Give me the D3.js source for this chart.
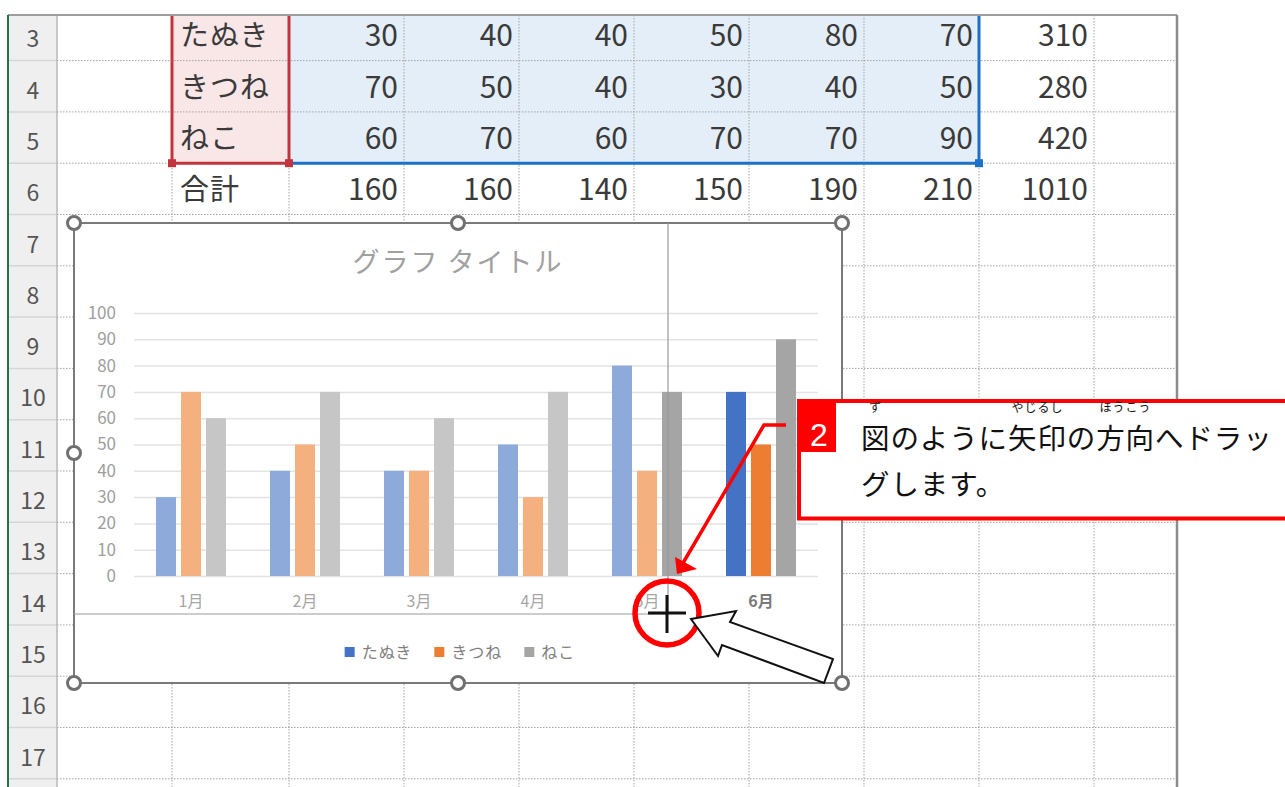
<!DOCTYPE html>
<html lang="ja">
<head>
<meta charset="utf-8">
<script src="https://cdn.jsdelivr.net/npm/d3@7"></script>
<style>
  html, body { margin: 0; padding: 0; background: #fff; overflow: hidden; }
  svg { display: block; font-family: "Noto Sans CJK JP", "Noto Sans", sans-serif; }
</style>
</head>
<body>
<div id="sheet"></div>
<script>
// ---- data ----
const months = ["1月", "2月", "3月", "4月", "5月", "6月"];
const seriesNames = ["たぬき", "きつね", "ねこ"];
const tanuki = [30, 40, 40, 50, 80, 70];
const kitsune = [70, 50, 40, 30, 40, 50];
const neko = [60, 70, 60, 70, 70, 90];
const rowNumbers = [3, 4, 5, 6, 7, 8, 9, 10, 11, 12, 13, 14, 15, 16, 17];
const yTicks = [0, 10, 20, 30, 40, 50, 60, 70, 80, 90, 100];
const chartTitle = "グラフ タイトル";
const totalLabel = "合計";
// [month index, series index] of the bars still drawn in full colour
const activeBars = [[4, 2], [5, 0], [5, 1], [5, 2]];
const calloutNumber = "2";
const calloutLines = ["図のように矢印の方向へドラッ", "グします。"];
const furigana = [
  { text: "ず", start: 0, len: 1 },
  { text: "やじるし", start: 5, len: 2 },
  { text: "ほうこう", start: 8, len: 2 },
];

const seriesValues = [tanuki, kitsune, neko];
const fullColors = ["#4472c4", "#ed7d31", "#a5a5a5"];
const dimColors = ["#8eaadb", "#f4b07e", "#c6c6c6"];

// ---- sheet layout ----
const W = 1285, H = 787;
const frame = { left: 8, top: 15, right: 1177 };
const rowH = 51.3;
const rowTop = (r) => 9.3 + (r - 3) * rowH;
const colEdges = [57, 172, 289, 404, 519, 634, 749, 864, 979, 1094, 1209];

const svg = d3.select("#sheet").append("svg").attr("width", W).attr("height", H);

svg.append("clipPath").attr("id", "sheet-clip")
  .append("rect")
  .attr("x", frame.left).attr("y", frame.top)
  .attr("width", frame.right - frame.left).attr("height", H - frame.top);

const sheet = svg.append("g").attr("clip-path", "url(#sheet-clip)");

// selected ranges (fill)
sheet.append("rect")
  .attr("x", colEdges[1]).attr("y", 0)
  .attr("width", colEdges[2] - colEdges[1]).attr("height", rowTop(6))
  .attr("fill", "#f9e6e7");
sheet.append("rect")
  .attr("x", colEdges[2]).attr("y", 0)
  .attr("width", colEdges[8] - colEdges[2]).attr("height", rowTop(6))
  .attr("fill", "#e4eef8");

// dotted cell gridlines
sheet.selectAll(".hgrid")
  .data(d3.range(4, 19))
  .enter()
  .append("line")
  .attr("x1", colEdges[0]).attr("x2", frame.right)
  .attr("y1", (r) => rowTop(r)).attr("y2", (r) => rowTop(r))
  .attr("stroke", "#a3a3a3").attr("stroke-width", 1)
  .attr("stroke-dasharray", "1.5,1.5");
sheet.selectAll(".vgrid")
  .data(colEdges.slice(1))
  .enter()
  .append("line")
  .attr("x1", (d) => d).attr("x2", (d) => d)
  .attr("y1", frame.top).attr("y2", H)
  .attr("stroke", "#a3a3a3").attr("stroke-width", 1)
  .attr("stroke-dasharray", "1.5,1.5");

// row headers
sheet.append("rect")
  .attr("x", frame.left).attr("y", frame.top)
  .attr("width", colEdges[0] - frame.left).attr("height", H)
  .attr("fill", "#efefef");
sheet.selectAll(".rowsep")
  .data(d3.range(4, 19))
  .enter()
  .append("line")
  .attr("x1", frame.left).attr("x2", colEdges[0])
  .attr("y1", (r) => rowTop(r)).attr("y2", (r) => rowTop(r))
  .attr("stroke", "#d6d6d6").attr("stroke-width", 1.5);
sheet.append("line")
  .attr("x1", colEdges[0]).attr("x2", colEdges[0])
  .attr("y1", frame.top).attr("y2", H)
  .attr("stroke", "#b8b8b8").attr("stroke-width", 1.5);
sheet.selectAll(".rownum")
  .data(rowNumbers)
  .enter()
  .append("text")
  .attr("x", 33)
  .attr("y", (r) => rowTop(r) + 38)
  .attr("text-anchor", "middle")
  .attr("font-size", 23)
  .attr("fill", "#555")
  .text((r) => r);

// table values
const tableRows = seriesNames.map((name, i) => ({
  row: 3 + i,
  label: name,
  values: seriesValues[i],
  total: d3.sum(seriesValues[i]),
}));
tableRows.push({
  row: 6,
  label: totalLabel,
  values: months.map((m, j) => d3.sum(seriesValues, (s) => s[j])),
  total: d3.sum(seriesValues, (s) => d3.sum(s)),
});

tableRows.forEach((tr) => {
  const base = rowTop(tr.row) + 37;
  sheet.append("text")
    .attr("x", colEdges[1] + 8).attr("y", base)
    .attr("font-size", 29).attr("letter-spacing", 1)
    .attr("fill", "#3a3a3a")
    .text(tr.label);
  sheet.selectAll(null)
    .data(tr.values.concat([tr.total]))
    .enter()
    .append("text")
    .attr("x", (d, j) => colEdges[j + 3] - 6)
    .attr("y", base)
    .attr("text-anchor", "end")
    .attr("font-size", 30)
    .attr("fill", "#3a3a3a")
    .text((d) => d);
});

// range finder borders
const redBox = "#c1363e", blueBox = "#1c70c6";
sheet.append("path")
  .attr("d", `M${colEdges[1]},0 V${rowTop(6)} H${colEdges[2]} V0`)
  .attr("fill", "none").attr("stroke", redBox).attr("stroke-width", 3);
sheet.append("path")
  .attr("d", `M${colEdges[2] + 2},${rowTop(6)} H${colEdges[8]} V0`)
  .attr("fill", "none").attr("stroke", blueBox).attr("stroke-width", 3);
[colEdges[1], colEdges[2]].forEach((cx) => {
  sheet.append("rect")
    .attr("x", cx - 4).attr("y", rowTop(6) - 4)
    .attr("width", 8).attr("height", 8).attr("fill", redBox);
});
sheet.append("rect")
  .attr("x", colEdges[8] - 4).attr("y", rowTop(6) - 4)
  .attr("width", 8).attr("height", 8).attr("fill", blueBox);

// frame
svg.append("line")
  .attr("x1", frame.left).attr("x2", frame.right)
  .attr("y1", frame.top).attr("y2", frame.top)
  .attr("stroke", "#9c9c9c").attr("stroke-width", 2);
svg.append("line")
  .attr("x1", frame.left).attr("x2", frame.left)
  .attr("y1", frame.top).attr("y2", H)
  .attr("stroke", "#217346").attr("stroke-width", 2);
svg.append("line")
  .attr("x1", frame.right).attr("x2", frame.right)
  .attr("y1", frame.top).attr("y2", H)
  .attr("stroke", "#8c8c8c").attr("stroke-width", 2.5);

// ---- chart ----
const chart = { x0: 74, y0: 223, x1: 842, y1: 683 };
const cx = (chart.x0 + chart.x1) / 2;

svg.append("rect")
  .attr("x", chart.x0).attr("y", chart.y0)
  .attr("width", chart.x1 - chart.x0).attr("height", chart.y1 - chart.y0)
  .attr("fill", "#fff").attr("stroke", "#7a7a7a").attr("stroke-width", 2);

svg.append("text")
  .attr("x", cx).attr("y", 272)
  .attr("text-anchor", "middle")
  .attr("font-size", 27).attr("letter-spacing", 2)
  .attr("fill", "#a0a0a0")
  .text(chartTitle);

const x = d3.scaleBand().domain(months).range([134, 818]);
const groupW = 70;
const x1 = d3.scaleBand()
  .domain(d3.range(seriesNames.length))
  .range([(x.bandwidth() - groupW) / 2, (x.bandwidth() + groupW) / 2])
  .paddingInner(0.2);
const y = d3.scaleLinear().domain([0, 100]).range([576, 313]);

const yAxis = svg.append("g")
  .attr("transform", "translate(134,0)")
  .call(d3.axisLeft(y).tickValues(yTicks).tickSize(-(818 - 134)).tickPadding(18));
yAxis.select(".domain").remove();
yAxis.selectAll("line").attr("stroke", "#e3e3e3").attr("stroke-width", 1.5);
yAxis.selectAll("text")
  .attr("font-size", 17).attr("fill", "#9e9e9e")
  .style("font-family", "'Noto Sans CJK JP', sans-serif");

const xAxis = svg.append("g")
  .attr("transform", `translate(0,${y(0)})`)
  .call(d3.axisBottom(x).tickSize(0).tickPadding(20));
xAxis.select(".domain").remove();
xAxis.selectAll("text")
  .attr("font-size", 16)
  .attr("fill", (d, i) => (i === months.length - 1 ? "#7a7a7a" : "#a6a6a6"))
  .attr("font-weight", (d, i) => (i === months.length - 1 ? "bold" : "normal"))
  .style("font-family", "'Noto Sans CJK JP', sans-serif");

const isActive = (i, s) => activeBars.some((a) => a[0] === i && a[1] === s);
const barData = [];
months.forEach((m, i) => {
  seriesValues.forEach((vals, s) => barData.push({ month: m, i, s, value: vals[i] }));
});

svg.selectAll(".bar")
  .data(barData)
  .enter()
  .append("rect")
  .attr("class", "bar")
  .attr("x", (d) => x(d.month) + x1(d.s))
  .attr("y", (d) => y(d.value))
  .attr("width", x1.bandwidth())
  .attr("height", (d) => y(0) - y(d.value))
  .attr("fill", (d) => (isActive(d.i, d.s) ? fullColors[d.s] : dimColors[d.s]));

// drag preview of the new chart size
svg.append("path")
  .attr("d", `M668,${chart.y0} V614 H${chart.x0}`)
  .attr("fill", "none").attr("stroke", "#9a9a9a").attr("stroke-width", 1.2);

// legend
const legend = svg.append("g");
let lx = 0;
seriesNames.forEach((name, i) => {
  const item = legend.append("g").attr("transform", `translate(${lx},0)`);
  item.append("rect")
    .attr("x", 0).attr("y", 647).attr("width", 10).attr("height", 10)
    .attr("fill", fullColors[i]);
  const t = item.append("text")
    .attr("x", 17).attr("y", 658)
    .attr("font-size", 16).attr("letter-spacing", 1)
    .attr("fill", "#7f7f7f")
    .text(name);
  lx += 17 + t.node().getComputedTextLength() + 22;
});
legend.attr("transform", `translate(${460 - (lx - 22) / 2},0)`);

// selection handles
const handles = [
  [chart.x0, chart.y0], [cx, chart.y0], [chart.x1, chart.y0],
  [chart.x0, (chart.y0 + chart.y1) / 2], [chart.x1, (chart.y0 + chart.y1) / 2],
  [chart.x0, chart.y1], [cx, chart.y1], [chart.x1, chart.y1],
];
svg.selectAll(".handle")
  .data(handles)
  .enter()
  .append("circle")
  .attr("cx", (d) => d[0]).attr("cy", (d) => d[1])
  .attr("r", 6.5)
  .attr("fill", "#fff").attr("stroke", "#707070").attr("stroke-width", 3);

// ---- callout ----
svg.append("rect")
  .attr("x", 799).attr("y", 401).attr("width", 600).attr("height", 117.5)
  .attr("fill", "#fff").attr("stroke", "#ff0000").attr("stroke-width", 4);
svg.append("rect")
  .attr("x", 801).attr("y", 403).attr("width", 35).attr("height", 49)
  .attr("fill", "#ff0000");
svg.append("text")
  .attr("x", 819).attr("y", 446)
  .attr("text-anchor", "middle")
  .attr("font-size", 32).attr("fill", "#fff")
  .style("font-family", "'Liberation Sans', Arial, sans-serif")
  .text(calloutNumber);

const textX = 861, advance = 29.4, textSize = 28.5;
calloutLines.forEach((line, i) => {
  svg.append("text")
    .attr("x", textX).attr("y", 449 + i * 46)
    .attr("font-size", textSize).attr("letter-spacing", advance - textSize)
    .attr("fill", "#111")
    .text(line);
});
svg.selectAll(".ruby")
  .data(furigana)
  .enter()
  .append("text")
  .attr("x", (d) => textX + (d.start + d.len / 2) * advance)
  .attr("y", 412)
  .attr("text-anchor", "middle")
  .attr("font-size", 12)
  .attr("letter-spacing", 1)
  .attr("fill", "#111")
  .text((d) => d.text);

// red pointer arrow
svg.append("path")
  .attr("d", "M786,425 H764 L683,563")
  .attr("fill", "none").attr("stroke", "#ff0000").attr("stroke-width", 3.5);
svg.append("path")
  .attr("d", "M677,574 L675,557 L697,569 Z")
  .attr("fill", "#ff0000");

// red circle with cursor
svg.append("circle")
  .attr("cx", 667).attr("cy", 613).attr("r", 32)
  .attr("fill", "none").attr("stroke", "#ff0000").attr("stroke-width", 5.5);
svg.append("path")
  .attr("d", "M648,613 H686 M667,595 V633")
  .attr("stroke", "#111").attr("stroke-width", 3);

// white block arrow
svg.append("path")
  .attr("d", "M691,619 L736,611 L730,622 L833,659 L824,683 L722,645 L718,656 Z")
  .attr("fill", "#fff").attr("stroke", "#111").attr("stroke-width", 2)
  .attr("stroke-linejoin", "miter");
</script>
</body>
</html>
